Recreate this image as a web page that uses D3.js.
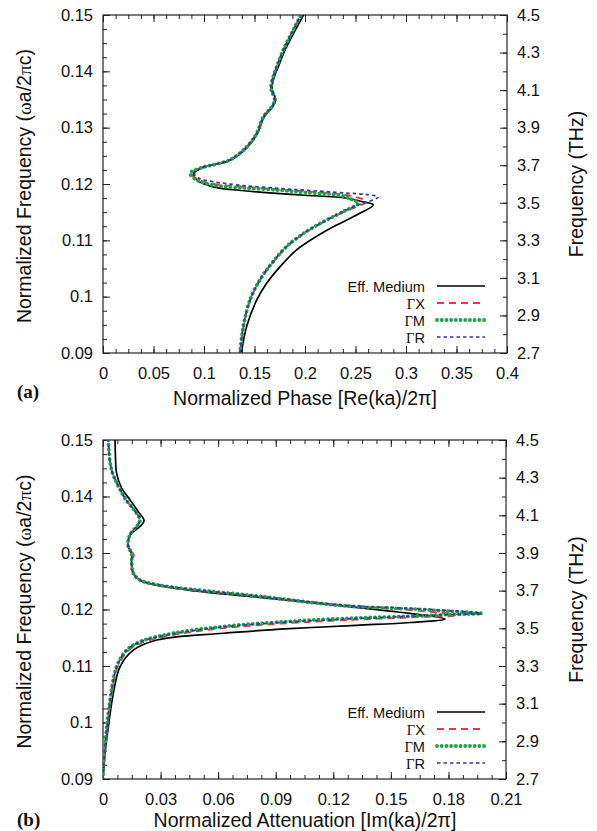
<!DOCTYPE html>
<html>
<head>
<meta charset="utf-8">
<script src="https://cdn.jsdelivr.net/npm/d3@7"></script>
<style>
  html, body { margin: 0; padding: 0; background: #fff; }
  svg { display: block; }
  text { font-family: "Liberation Sans", Arial, Helvetica, sans-serif; fill: #111; }
</style>
</head>
<body>
<svg id="chart" width="597" height="831"></svg>
<script>
// ---------------- DATA ----------------
const seriesNames = ["Eff. Medium", "ΓX", "ΓM", "ΓR"];

// (a) Normalized phase Re(ka)/2π  vs  normalized frequency ωa/2πc   ([phase, freq])
const phaseEff = [
  [0.1370,0.0900],[0.1422,0.0947],[0.1521,0.0994],[0.1620,0.1024],[0.1752,0.1053],
  [0.1917,0.1083],[0.2115,0.1107],[0.2313,0.1127],[0.2511,0.1145],[0.2676,0.1163],
  [0.2560,0.1169],[0.2410,0.1175],[0.2000,0.1180],[0.1750,0.1183],[0.1400,0.1188],
  [0.1090,0.1195],[0.0940,0.1206],[0.0895,0.1218],[0.0970,0.1228],[0.1270,0.1243],
  [0.1432,0.1266],[0.1530,0.1290],[0.1595,0.1319],[0.1680,0.1337],[0.1710,0.1349],
  [0.1690,0.1361],[0.1673,0.1370],[0.1697,0.1391],[0.1735,0.1408],[0.1803,0.1438],
  [0.1888,0.1468],[0.1985,0.1500]
];
const phaseGX = [
  [0.1356,0.0900],[0.1392,0.0947],[0.1458,0.0994],[0.1558,0.1030],[0.1675,0.1059],
  [0.1823,0.1089],[0.1990,0.1112],[0.2190,0.1133],[0.2390,0.1151],[0.2545,0.1162],
  [0.2610,0.1169],[0.2500,0.1177],[0.2347,0.1182],[0.2000,0.1187],[0.1750,0.1190],
  [0.1400,0.1195],[0.1092,0.1200],[0.0930,0.1209],[0.0868,0.1219],[0.0960,0.1228],
  [0.1257,0.1243],[0.1422,0.1266],[0.1521,0.1290],[0.1587,0.1319],[0.1670,0.1337],
  [0.1700,0.1349],[0.1680,0.1361],[0.1663,0.1370],[0.1686,0.1391],[0.1720,0.1408],
  [0.1785,0.1438],[0.1868,0.1468],[0.1960,0.1500]
];
const phaseGM = [
  [0.1356,0.0900],[0.1389,0.0947],[0.1455,0.0994],[0.1554,0.1030],[0.1670,0.1059],
  [0.1818,0.1089],[0.1983,0.1112],[0.2181,0.1133],[0.2379,0.1151],[0.2528,0.1166],
  [0.2460,0.1173],[0.2347,0.1180],[0.2000,0.1185],[0.1750,0.1189],[0.1400,0.1193],
  [0.1092,0.1198],[0.0930,0.1207],[0.0862,0.1219],[0.0960,0.1228],[0.1257,0.1243],
  [0.1422,0.1266],[0.1521,0.1290],[0.1587,0.1319],[0.1670,0.1337],[0.1700,0.1349],
  [0.1680,0.1361],[0.1663,0.1370],[0.1686,0.1391],[0.1720,0.1408],[0.1785,0.1438],
  [0.1868,0.1468],[0.1960,0.1500]
];
const phaseGR = [
  [0.1356,0.0900],[0.1389,0.0947],[0.1455,0.0994],[0.1554,0.1030],[0.1670,0.1059],
  [0.1818,0.1089],[0.1983,0.1112],[0.2181,0.1133],[0.2379,0.1151],[0.2528,0.1163],
  [0.2620,0.1168],[0.2726,0.1177],[0.2620,0.1181],[0.2410,0.1184],[0.2000,0.1189],
  [0.1750,0.1192],[0.1400,0.1197],[0.1092,0.1204],[0.0950,0.1210],[0.0905,0.1218],
  [0.0970,0.1228],[0.1257,0.1243],[0.1422,0.1266],[0.1521,0.1290],[0.1587,0.1319],
  [0.1670,0.1337],[0.1700,0.1349],[0.1680,0.1361],[0.1663,0.1370],[0.1686,0.1391],
  [0.1720,0.1408],[0.1785,0.1438],[0.1868,0.1468],[0.1960,0.1500]
];

// (b) Normalized attenuation Im(ka)/2π  vs  normalized frequency   ([attenuation, freq])
const attEff = [
  [0.0000,0.0900],[0.0012,0.0950],[0.0028,0.0993],[0.0054,0.1052],[0.0089,0.1099],
  [0.0158,0.1128],[0.0280,0.1146],[0.0627,0.1158],[0.0974,0.1166],[0.1320,0.1172],
  [0.1600,0.1177],[0.1782,0.1183],[0.1600,0.1193],[0.1495,0.1197],[0.1148,0.1210],
  [0.0801,0.1222],[0.0453,0.1234],[0.0280,0.1243],[0.0193,0.1252],[0.0158,0.1264],
  [0.0149,0.1282],[0.0149,0.1299],[0.0132,0.1311],[0.0132,0.1323],[0.0149,0.1335],
  [0.0193,0.1347],[0.0214,0.1357],[0.0184,0.1373],[0.0141,0.1394],[0.0097,0.1415],
  [0.0071,0.1441],[0.0065,0.1470],[0.0063,0.1500]
];
const attGX = [
  [0.0000,0.0900],[0.0009,0.0950],[0.0018,0.0981],[0.0040,0.1040],[0.0075,0.1097],
  [0.0128,0.1126],[0.0200,0.1141],[0.0367,0.1155],[0.0627,0.1167],[0.0974,0.1176],
  [0.1320,0.1182],[0.1600,0.1186],[0.1860,0.1190],[0.1600,0.1199],[0.1320,0.1206],
  [0.1148,0.1211],[0.0801,0.1224],[0.0453,0.1235],[0.0280,0.1244],[0.0193,0.1252],
  [0.0158,0.1264],[0.0149,0.1282],[0.0160,0.1297],[0.0132,0.1311],[0.0132,0.1323],
  [0.0145,0.1335],[0.0180,0.1349],[0.0193,0.1359],[0.0165,0.1375],[0.0120,0.1394],
  [0.0085,0.1415],[0.0050,0.1441],[0.0035,0.1465],[0.0028,0.1500]
];
const attGM = [
  [0.0000,0.0900],[0.0008,0.0950],[0.0016,0.0981],[0.0037,0.1040],[0.0071,0.1099],
  [0.0123,0.1128],[0.0193,0.1143],[0.0367,0.1158],[0.0627,0.1170],[0.0974,0.1179],
  [0.1320,0.1185],[0.1600,0.1188],[0.1800,0.1191],[0.1974,0.1193],[0.1800,0.1197],
  [0.1600,0.1201],[0.1320,0.1205],[0.1148,0.1210],[0.0801,0.1224],[0.0453,0.1236],
  [0.0280,0.1244],[0.0193,0.1252],[0.0158,0.1264],[0.0149,0.1282],[0.0149,0.1299],
  [0.0132,0.1311],[0.0132,0.1323],[0.0145,0.1335],[0.0180,0.1349],[0.0193,0.1359],
  [0.0165,0.1375],[0.0120,0.1394],[0.0085,0.1415],[0.0050,0.1441],[0.0035,0.1465],
  [0.0028,0.1500]
];
const attGR = [
  [0.0000,0.0900],[0.0008,0.0950],[0.0017,0.0981],[0.0038,0.1040],[0.0072,0.1099],
  [0.0125,0.1128],[0.0196,0.1143],[0.0367,0.1157],[0.0627,0.1169],[0.0974,0.1178],
  [0.1320,0.1184],[0.1600,0.1188],[0.1800,0.1191],[0.1970,0.1193],[0.1800,0.1198],
  [0.1600,0.1202],[0.1320,0.1206],[0.1148,0.1211],[0.0801,0.1224],[0.0453,0.1236],
  [0.0280,0.1244],[0.0193,0.1252],[0.0158,0.1264],[0.0149,0.1282],[0.0149,0.1299],
  [0.0132,0.1311],[0.0132,0.1323],[0.0145,0.1335],[0.0180,0.1349],[0.0193,0.1359],
  [0.0165,0.1375],[0.0120,0.1394],[0.0085,0.1415],[0.0050,0.1441],[0.0035,0.1465],
  [0.0028,0.1500]
];

// tick labels
const freqTicks   = [0.09, 0.10, 0.11, 0.12, 0.13, 0.14, 0.15];
const freqLabels  = ["0.09", "0.1", "0.11", "0.12", "0.13", "0.14", "0.15"];
const thzTicks    = [2.7, 2.9, 3.1, 3.3, 3.5, 3.7, 3.9, 4.1, 4.3, 4.5];
const thzLabels   = ["2.7", "2.9", "3.1", "3.3", "3.5", "3.7", "3.9", "4.1", "4.3", "4.5"];
const phaseTicks  = [0, 0.05, 0.1, 0.15, 0.2, 0.25, 0.3, 0.35, 0.4];
const phaseLabels = ["0", "0.05", "0.1", "0.15", "0.2", "0.25", "0.3", "0.35", "0.4"];
const attTicks    = [0, 0.03, 0.06, 0.09, 0.12, 0.15, 0.18, 0.21];
const attLabels   = ["0", "0.03", "0.06", "0.09", "0.12", "0.15", "0.18", "0.21"];

// ---------------- STYLE ----------------
const styles = [
  { color: "#000000", width: 1.7, dash: null, cap: "butt" },
  { color: "#e8383d", width: 1.8, dash: "7,5", cap: "butt" },
  { color: "#1ea34c", width: 3.8, dash: "0.1,4.6", cap: "round" },
  { color: "#2f3a9e", width: 1.7, dash: "3.5,3", cap: "butt" }
];
const tickFont = "16.5px";
const legendFont = "14.6px";
const titleFont = "19.5px";

const svg = d3.select("#chart");

function drawPanel(cfg) {
  const { left, right, top, bottom, xDomain, xTicks, xLabels, xMinorStep, series, xTitle, tag, id, titleOffset, tagOffset } = cfg;
  const x = d3.scaleLinear().domain(xDomain).range([left, right]);
  const y = d3.scaleLinear().domain([0.09, 0.15]).range([bottom, top]);
  const yR = d3.scaleLinear().domain([2.7, 4.5]).range([bottom, top]);

  const g = svg.append("g");

  svg.append("defs").append("clipPath").attr("id", "clip" + id)
    .append("rect").attr("x", left).attr("y", top).attr("width", right - left).attr("height", bottom - top);

  const xMinor = d3.range(0, 33).map(i => +(xDomain[0] + i * xMinorStep).toFixed(6)).filter(v => v <= xDomain[1] + 1e-9);
  const yMinor = d3.range(0, 25).map(i => +(0.09 + i * 0.0025).toFixed(6)).filter(v => v <= 0.15 + 1e-9);
  const yRMinor = d3.range(0, 19).map(i => +(2.7 + i * 0.1).toFixed(4)).filter(v => v <= 4.5 + 1e-9);

  const styleAxis = sel => {
    sel.select(".domain").remove();
    sel.selectAll("line").attr("stroke", "#222").attr("stroke-width", 1);
    sel.selectAll("text").style("font-size", tickFont).attr("fill", "#111");
  };

  g.append("g").attr("transform", `translate(0,${bottom})`)
    .call(d3.axisBottom(x).tickValues(xTicks).tickFormat((d, i) => xLabels[i]).tickSize(-7).tickPadding(14))
    .call(styleAxis);
  g.append("g").attr("transform", `translate(0,${bottom})`)
    .call(d3.axisBottom(x).tickValues(xMinor).tickFormat("").tickSize(-4))
    .call(styleAxis);
  g.append("g").attr("transform", `translate(0,${top})`)
    .call(d3.axisTop(x).tickValues(xTicks).tickFormat("").tickSize(-7))
    .call(styleAxis);
  g.append("g").attr("transform", `translate(0,${top})`)
    .call(d3.axisTop(x).tickValues(xMinor).tickFormat("").tickSize(-4))
    .call(styleAxis);
  g.append("g").attr("transform", `translate(${left},0)`)
    .call(d3.axisLeft(y).tickValues(freqTicks).tickFormat((d, i) => freqLabels[i]).tickSize(-7).tickPadding(10))
    .call(styleAxis);
  g.append("g").attr("transform", `translate(${left},0)`)
    .call(d3.axisLeft(y).tickValues(yMinor).tickFormat("").tickSize(-4))
    .call(styleAxis);
  g.append("g").attr("transform", `translate(${right},0)`)
    .call(d3.axisRight(yR).tickValues(thzTicks).tickFormat((d, i) => thzLabels[i]).tickSize(-7).tickPadding(10))
    .call(styleAxis);
  g.append("g").attr("transform", `translate(${right},0)`)
    .call(d3.axisRight(yR).tickValues(yRMinor).tickFormat("").tickSize(-4))
    .call(styleAxis);

  g.append("rect").attr("x", left).attr("y", top).attr("width", right - left).attr("height", bottom - top)
    .attr("fill", "none").attr("stroke", "#222").attr("stroke-width", 1.2);

  const line = d3.line().x(d => x(d[0])).y(d => y(d[1])).curve(d3.curveCatmullRom.alpha(0.5));
  const cg = g.append("g").attr("clip-path", `url(#clip${id})`);
  series.forEach((s, i) => {
    const st = styles[i];
    cg.append("path").datum(s).attr("d", line)
      .attr("fill", "none").attr("stroke", st.color).attr("stroke-width", st.width)
      .attr("stroke-dasharray", st.dash).attr("stroke-linecap", st.cap).attr("stroke-linejoin", "round");
  });

  const lg = g.append("g");
  seriesNames.forEach((name, i) => {
    const ly = bottom - 67 + i * 17;
    const t = lg.append("text").attr("x", 425).attr("y", ly + 5.5).attr("text-anchor", "end").style("font-size", legendFont);
    if (name.startsWith("Γ")) {
      t.append("tspan").style("font-family", "'Liberation Serif', 'Times New Roman', serif").text("Γ");
      t.append("tspan").text(name.slice(1));
    } else {
      t.text(name);
    }
    const st = styles[i];
    lg.append("line").attr("x1", 437).attr("x2", 485).attr("y1", ly).attr("y2", ly)
      .attr("stroke", st.color).attr("stroke-width", st.width)
      .attr("stroke-dasharray", st.dash).attr("stroke-linecap", st.cap);
  });

  const cy = (top + bottom) / 2;
  g.append("text").attr("x", 305).attr("y", bottom + titleOffset).attr("text-anchor", "middle")
    .style("font-size", titleFont).text(xTitle);
  const lt = g.append("text").attr("transform", `translate(31,${cy + 2}) rotate(-90)`).attr("text-anchor", "middle")
    .style("font-size", titleFont);
  lt.append("tspan").text("Normalized Frequency (");
  lt.append("tspan").style("font-family", "'Liberation Serif', serif").text("ω");
  lt.append("tspan").text("a/2");
  lt.append("tspan").style("font-family", "'Liberation Serif', serif").text("π");
  lt.append("tspan").text("c)");
  g.append("text").attr("transform", `translate(583,${cy}) rotate(-90)`).attr("text-anchor", "middle")
    .style("font-size", titleFont).text("Frequency (THz)");
  g.append("text").attr("x", 17).attr("y", bottom + tagOffset)
    .style("font-family", "'Liberation Serif', 'Times New Roman', serif").style("font-weight", "bold").style("font-size", "19px")
    .text(tag);
}

drawPanel({
  id: "a", left: 103, right: 507, top: 15, bottom: 353,
  xDomain: [0, 0.4], xTicks: phaseTicks, xLabels: phaseLabels, xMinorStep: 0.0125,
  series: [phaseEff, phaseGX, phaseGM, phaseGR],
  xTitle: "Normalized Phase [Re(ka)/2π]", tag: "(a)", titleOffset: 52, tagOffset: 45
});
drawPanel({
  id: "b", left: 103, right: 506, top: 440, bottom: 779,
  xDomain: [0, 0.21], xTicks: attTicks, xLabels: attLabels, xMinorStep: 0.0075,
  series: [attEff, attGX, attGM, attGR],
  xTitle: "Normalized Attenuation [Im(ka)/2π]", tag: "(b)", titleOffset: 48, tagOffset: 47
});
</script>
</body>
</html>
